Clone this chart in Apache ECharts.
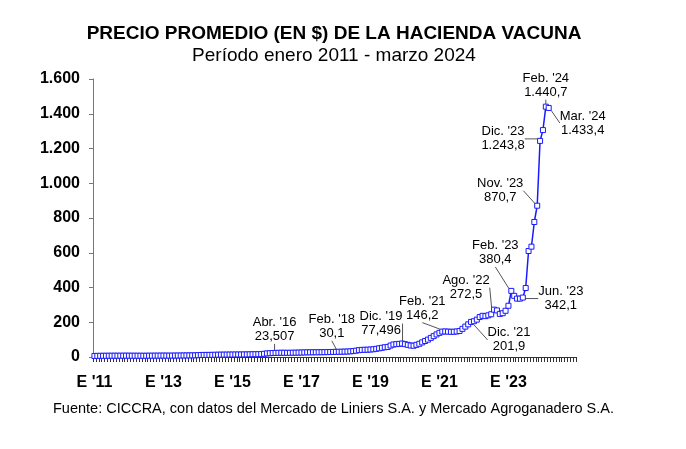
<!DOCTYPE html>
<html>
<head>
<meta charset="utf-8">
<script src="https://cdn.jsdelivr.net/npm/echarts@6/dist/echarts.min.js"></script>
<style>
html,body{margin:0;padding:0;background:#fff;}
#chart{width:686px;height:449px;}
</style>
</head>
<body>
<div id="chart"></div>
<script>
// ---- Data (ARS per kg, monthly averages) ----
var monthNames = ['Ene','Feb','Mar','Abr','May','Jun','Jul','Ago','Sep','Oct','Nov','Dic'];
var years = [2011,2012,2013,2014,2015,2016,2017,2018,2019,2020,2021,2022,2023,2024];

var v2011 = [6.1, 6.4, 6.9, 7.0, 7.1, 7.2, 7.3, 7.4, 7.3, 7.4, 7.5, 7.6];
var v2012 = [7.6, 7.4, 7.3, 7.3, 7.2, 7.1, 7.3, 7.4, 7.6, 7.7, 7.8, 8.0];
var v2013 = [8.1, 8.0, 7.9, 8.0, 8.2, 8.4, 8.6, 8.8, 9.0, 9.2, 9.4, 9.8];
var v2014 = [10.5, 11.6, 11.9, 12.0, 12.2, 12.4, 12.8, 13.2, 13.5, 13.6, 13.8, 14.0];
var v2015 = [14.2, 14.3, 14.4, 14.5, 14.7, 14.9, 15.3, 15.8, 16.0, 16.2, 16.5, 18.5];
var v2016 = [20.6, 21.9, 22.8, 23.507, 24.0, 24.5, 24.3, 24.1, 24.3, 24.6, 25.0, 25.3];
var v2017 = [25.8, 26.3, 26.8, 27.0, 27.2, 27.3, 27.4, 27.6, 27.9, 28.2, 28.6, 29.2];
var v2018 = [29.5, 30.1, 30.4, 31.0, 31.5, 32.5, 34.0, 36.5, 39.5, 41.0, 41.5, 42.0];
var v2019 = [43.0, 44.5, 47.0, 50.0, 53.0, 56.0, 58.0, 66.0, 72.0, 74.0, 75.5, 77.496];
var v2020 = [74.0, 70.0, 66.0, 65.0, 70.0, 76.0, 84.0, 92.0, 100.0, 110.0, 120.0, 130.0];
var v2021 = [139.0, 146.2, 147.0, 146.0, 145.0, 145.5, 147.0, 150.0, 162.0, 175.0, 188.0, 201.9];
var v2022 = [206.0, 215.0, 230.0, 237.0, 235.0, 240.0, 246.0, 272.5, 268.0, 248.0, 252.0, 266.0];
var v2023 = [295.0, 380.4, 352.0, 336.0, 336.0, 342.1, 397.0, 610.0, 635.0, 777.0, 870.7, 1243.8];
var v2024 = [1306.0, 1440.7, 1433.4];

var yTicks = [0, 200, 400, 600, 800, 1000, 1200, 1400, 1600];

// annotations: category, label text, label offset from the point
var annotations = [
  {cat:'Abr 2016', text:"Abr. '16\n23,507",  dx:-1,  dy:-23},
  {cat:'Feb 2018', text:"Feb. '18\n30,1",    dx:-7,  dy:-25},
  {cat:'Dic 2019', text:"Dic. '19\n77,496",  dx:-21, dy:-20},
  {cat:'Feb 2021', text:"Feb. '21\n146,2",   dx:-20, dy:-23},
  {cat:'Dic 2021', text:"Dic. '21\n201,9",   dx:38,  dy:18},
  {cat:'Ago 2022', text:"Ago. '22\n272,5",   dx:-28, dy:-22},
  {cat:'Feb 2023', text:"Feb. '23\n380,4",   dx:-16, dy:-38},
  {cat:'Jun 2023', text:"Jun. '23\n342,1",   dx:38,  dy:1},
  {cat:'Nov 2023', text:"Nov. '23\n870,7",   dx:-37, dy:-15},
  {cat:'Dic 2023', text:"Dic. '23\n1.243,8", dx:-37, dy:-2},
  {cat:'Feb 2024', text:"Feb. '24\n1.440,7", dx:0,   dy:-21},
  {cat:'Mar 2024', text:"Mar. '24\n1.433,4", dx:34,  dy:15}
];

// ---- build ----
var categories = [];
years.forEach(function(y){ monthNames.forEach(function(m){ categories.push(m + ' ' + y); }); });
var values = [].concat(v2011,v2012,v2013,v2014,v2015,v2016,v2017,v2018,v2019,v2020,v2021,v2022,v2023,v2024);

var annoMap = {};
annotations.forEach(function(a){ annoMap[a.cat] = a; });

var FONT = 'Liberation Sans, Arial, sans-serif';

var seriesData = values.map(function(v, i){
  var a = annoMap[categories[i]];
  if (!a) return v;
  return {
    value: v,
    label: {
      show: true,
      position: 'inside',
      offset: [a.dx, a.dy],
      formatter: a.text,
      fontFamily: FONT,
      fontSize: 13,
      lineHeight: 14,
      color: '#000',
      align: 'center',
      verticalAlign: 'middle'
    },
    labelLine: {
      show: true,
      lineStyle: {color: '#555', width: 1}
    }
  };
});

function fmtThousands(v){
  return String(v).replace(/\B(?=(\d{3})+(?!\d))/g, '.');
}

var chart = echarts.init(document.getElementById('chart'), null, {renderer:'canvas'});
chart.setOption({
  animation: false,
  backgroundColor: '#fff',
  title: [
    {text: 'PRECIO PROMEDIO (EN $) DE LA HACIENDA VACUNA', left: 334, top: 24, textAlign: 'center', padding: 0,
     textStyle: {fontFamily: FONT, fontSize: 19, fontWeight: 'bold', color: '#000'}},
    {text: 'Período enero 2011 - marzo 2024', left: 334, top: 46, textAlign: 'center', padding: 0,
     textStyle: {fontFamily: FONT, fontSize: 19, fontWeight: 'normal', color: '#000'}},
    {text: 'Fuente: CICCRA, con datos del Mercado de Liniers S.A. y Mercado Agroganadero S.A.', left: 53, top: 401, padding: 0,
     textStyle: {fontFamily: FONT, fontSize: 14.5, fontWeight: 'normal', color: '#000'}}
  ],
  grid: {left: 93, right: 110, top: 79, bottom: 92, containLabel: false},
  xAxis: {
    type: 'category',
    data: categories,
    boundaryGap: true,
    axisLine: {show: true, lineStyle: {color: '#333', width: 1}},
    axisTick: {show: true, interval: 0, length: 5, lineStyle: {color: '#333', width: 1}},
    axisLabel: {
      interval: 23,
      margin: 18,
      fontFamily: FONT,
      fontSize: 16,
      fontWeight: 'bold',
      color: '#000',
      formatter: function(v){ return "E '" + v.slice(-2); }
    },
    splitLine: {show: false}
  },
  yAxis: {
    type: 'value',
    min: yTicks[0],
    max: yTicks[yTicks.length - 1],
    interval: yTicks[1] - yTicks[0],
    axisLine: {show: true, lineStyle: {color: '#777', width: 1}},
    axisTick: {show: true, length: 4, lineStyle: {color: '#777'}},
    axisLabel: {
      margin: 13,
      fontFamily: FONT,
      fontSize: 16,
      fontWeight: 'bold',
      color: '#000',
      formatter: function(v){ return fmtThousands(v); }
    },
    splitLine: {show: false}
  },
  series: [{
    type: 'line',
    data: seriesData,
    symbol: 'rect',
    symbolSize: 5,
    showAllSymbol: true,
    lineStyle: {color: '#1a1aff', width: 1.5},
    itemStyle: {color: '#fff', borderColor: '#1a1aff', borderWidth: 1},
    emphasis: {disabled: true},
    z: 3
  }]
});
</script>
</body>
</html>
